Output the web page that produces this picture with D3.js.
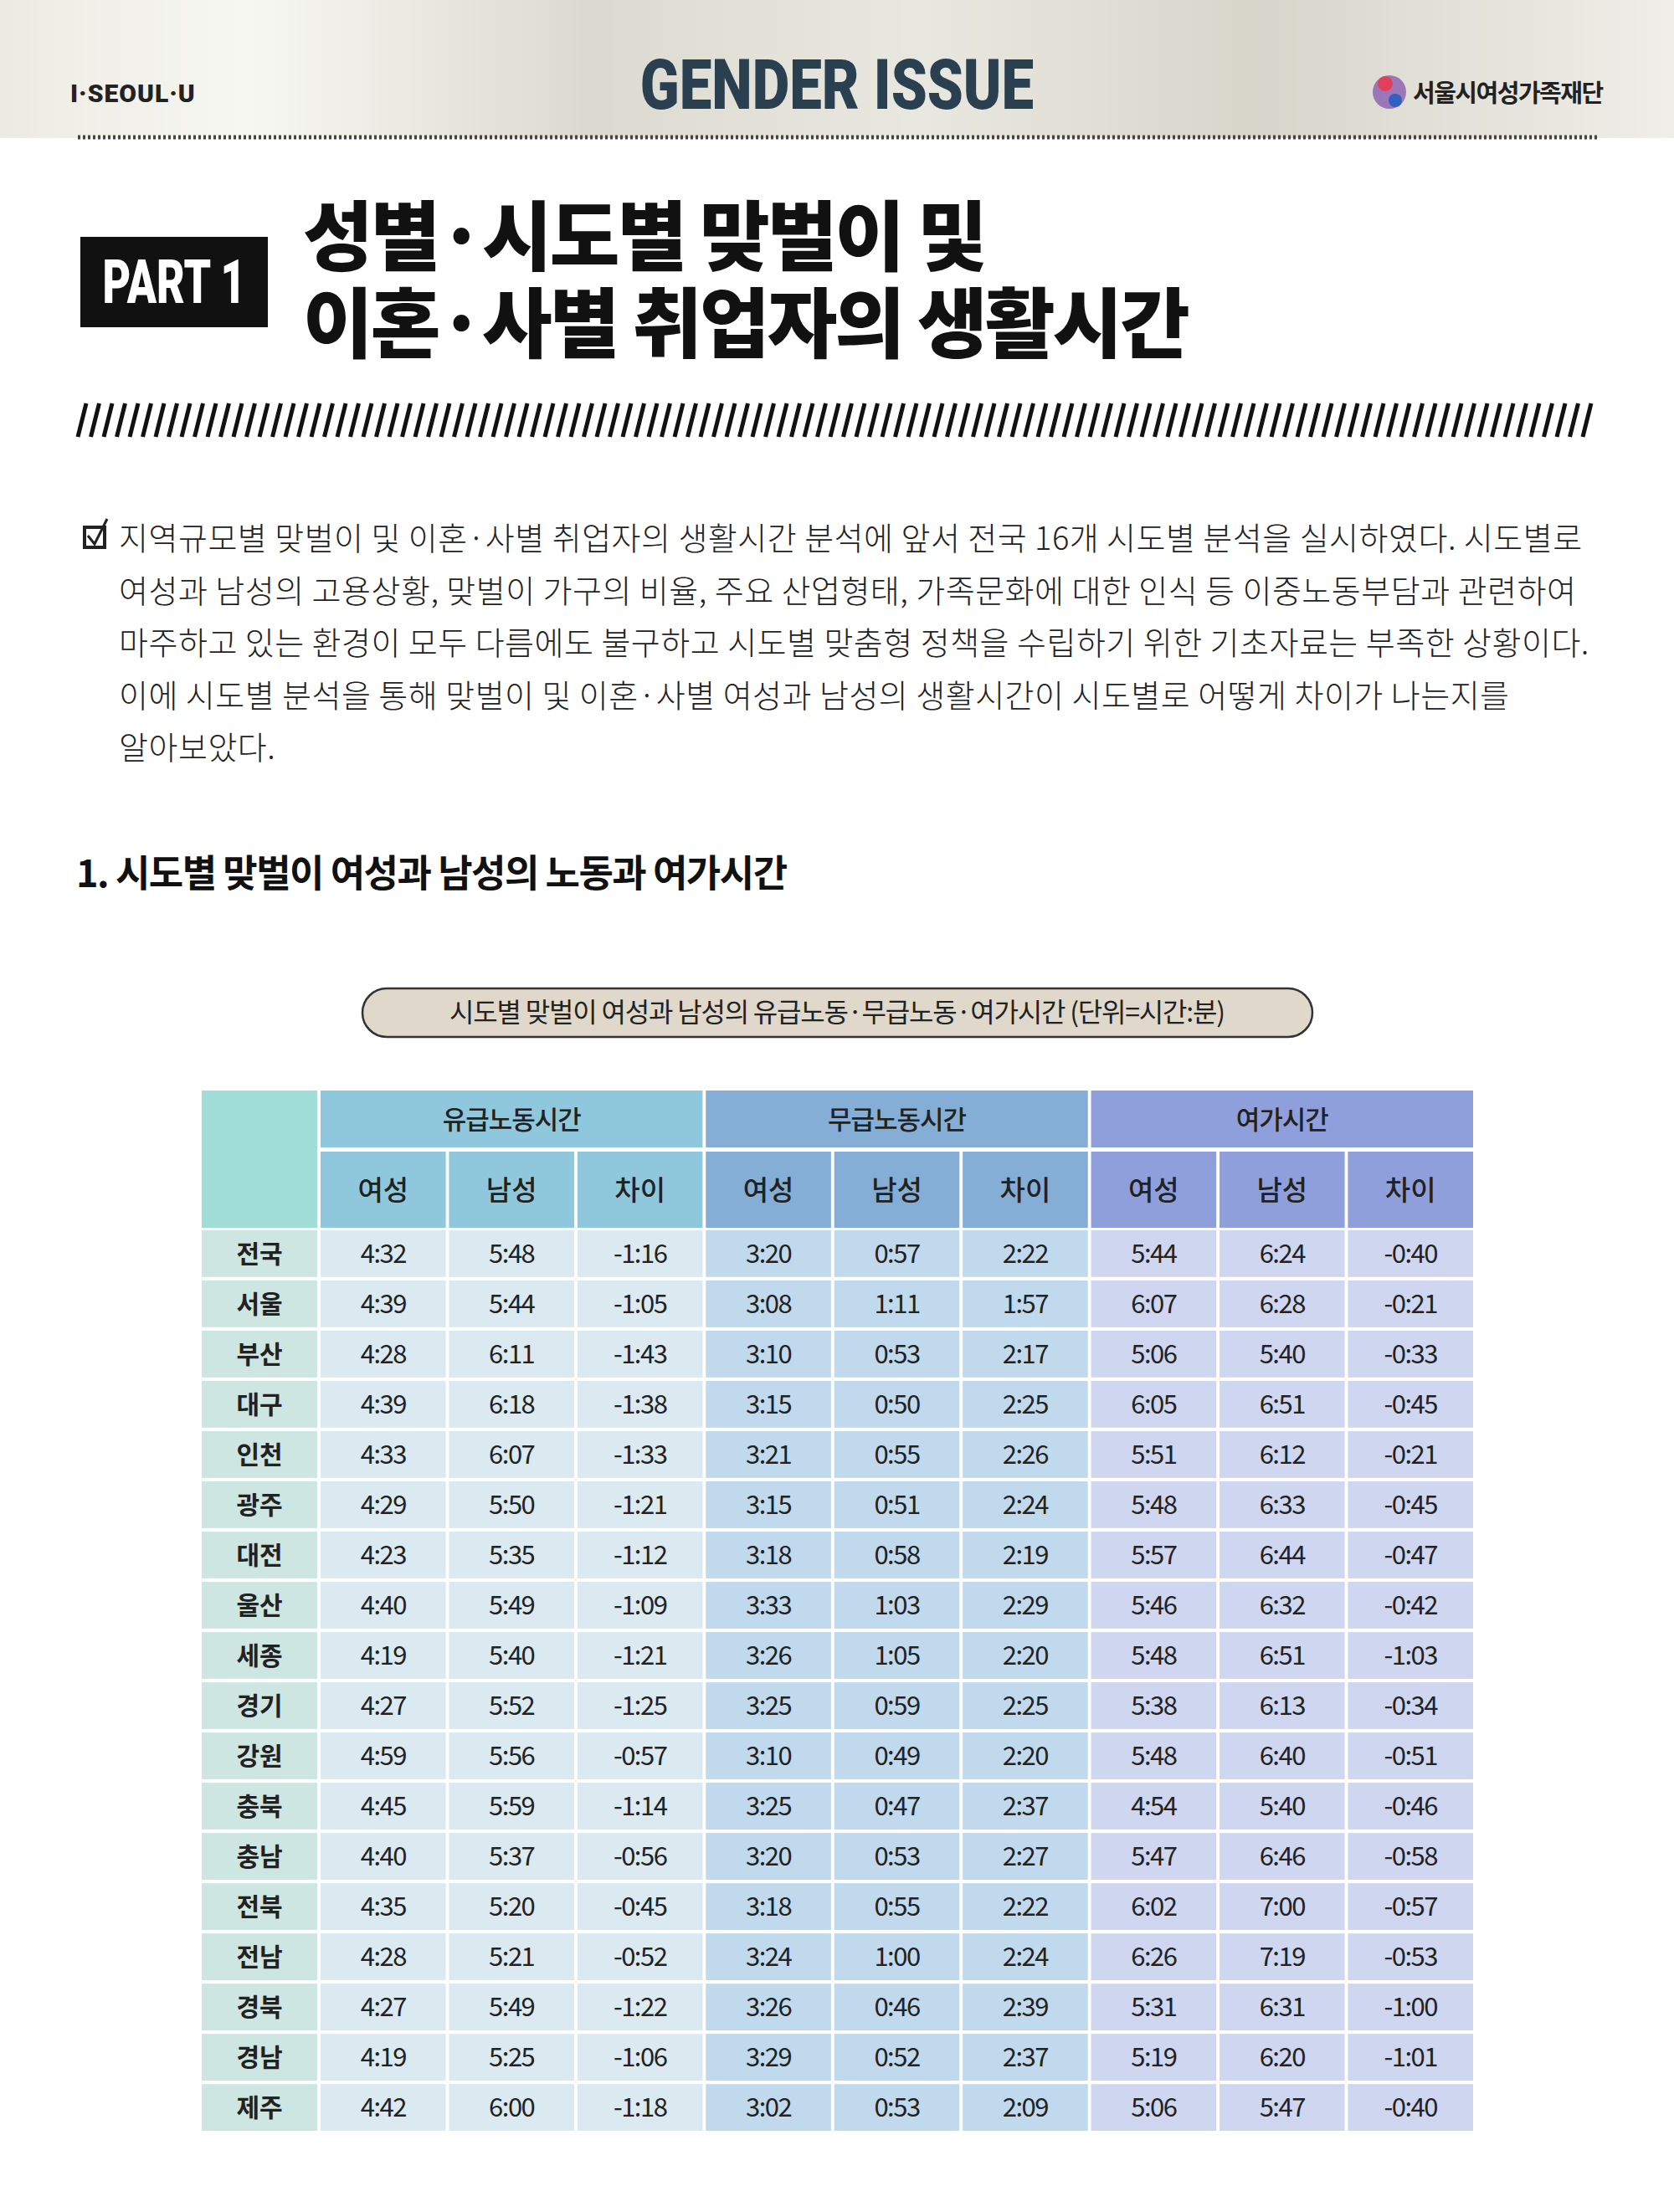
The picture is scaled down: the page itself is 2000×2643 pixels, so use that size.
<!DOCTYPE html>
<html><head><meta charset="utf-8">
<script src="https://cdn.jsdelivr.net/npm/d3@7"></script>
<style>body{margin:0;background:#fff}svg{display:block;font-family:"Noto Sans CJK KR","Noto Sans",sans-serif}</style>
</head><body><svg id="page"></svg>
<script>
const W = 2000, H = 2643;
const regions = ["전국","서울","부산","대구","인천","광주","대전","울산","세종","경기","강원","충북","충남","전북","전남","경북","경남","제주"];
const groups = ["유급노동시간","무급노동시간","여가시간"];
const subHeads = ["여성","남성","차이"];
const paidF = ["4:32","4:39","4:28","4:39","4:33","4:29","4:23","4:40","4:19","4:27","4:59","4:45","4:40","4:35","4:28","4:27","4:19","4:42"];
const paidM = ["5:48","5:44","6:11","6:18","6:07","5:50","5:35","5:49","5:40","5:52","5:56","5:59","5:37","5:20","5:21","5:49","5:25","6:00"];
const paidD = ["-1:16","-1:05","-1:43","-1:38","-1:33","-1:21","-1:12","-1:09","-1:21","-1:25","-0:57","-1:14","-0:56","-0:45","-0:52","-1:22","-1:06","-1:18"];
const unpaidF = ["3:20","3:08","3:10","3:15","3:21","3:15","3:18","3:33","3:26","3:25","3:10","3:25","3:20","3:18","3:24","3:26","3:29","3:02"];
const unpaidM = ["0:57","1:11","0:53","0:50","0:55","0:51","0:58","1:03","1:05","0:59","0:49","0:47","0:53","0:55","1:00","0:46","0:52","0:53"];
const unpaidD = ["2:22","1:57","2:17","2:25","2:26","2:24","2:19","2:29","2:20","2:25","2:20","2:37","2:27","2:22","2:24","2:39","2:37","2:09"];
const leisureF = ["5:44","6:07","5:06","6:05","5:51","5:48","5:57","5:46","5:48","5:38","5:48","4:54","5:47","6:02","6:26","5:31","5:19","5:06"];
const leisureM = ["6:24","6:28","5:40","6:51","6:12","6:33","6:44","6:32","6:51","6:13","6:40","5:40","6:46","7:00","7:19","6:31","6:20","5:47"];
const leisureD = ["-0:40","-0:21","-0:33","-0:45","-0:21","-0:45","-0:47","-0:42","-1:03","-0:34","-0:51","-0:46","-0:58","-0:57","-0:53","-1:00","-1:01","-0:40"];
const columns = [paidF, paidM, paidD, unpaidF, unpaidM, unpaidD, leisureF, leisureM, leisureD];
const paragraph = [
  "지역규모별 맞벌이 및 이혼·사별 취업자의 생활시간 분석에 앞서 전국 16개 시도별 분석을 실시하였다. 시도별로",
  "여성과 남성의 고용상황, 맞벌이 가구의 비율, 주요 산업형태, 가족문화에 대한 인식 등 이중노동부담과 관련하여",
  "마주하고 있는 환경이 모두 다름에도 불구하고 시도별 맞춤형 정책을 수립하기 위한 기초자료는 부족한 상황이다.",
  "이에 시도별 분석을 통해 맞벌이 및 이혼·사별 여성과 남성의 생활시간이 시도별로 어떻게 차이가 나는지를",
  "알아보았다."
];
const headColors = ["#8fc8dc","#85aed6","#8f9fdb"];
const bodyColors = ["#dbe9f1","#c0d9ed","#cfd6ef"];

const svg = d3.select("#page").attr("width", W).attr("height", H);

// header band
const defs = svg.append("defs");
const bg = defs.append("linearGradient").attr("id","band");
[["0%","#ecebe3"],["15%","#f7f7f2"],["35%","#dcdad0"],["55%","#e9e8e0"],["75%","#d8d6cb"],["100%","#efeee8"]]
  .forEach(s => bg.append("stop").attr("offset", s[0]).attr("stop-color", s[1]));
svg.append("rect").attr("width", W).attr("height", 165).attr("fill","url(#band)");
svg.append("line").attr("x1",93).attr("x2",1910).attr("y1",164).attr("y2",164)
  .attr("stroke","#444").attr("stroke-width",5).attr("stroke-dasharray","3 3");
svg.append("text").attr("x",84).attr("y",122).attr("font-size",30).attr("font-weight",900)
  .attr("font-family","Roboto, sans-serif").attr("fill","#222").attr("letter-spacing",1).text("I·SEOUL·U");
svg.append("text").attr("x",1000).attr("y",130).attr("text-anchor","middle")
  .attr("font-size",84).attr("font-weight",900).attr("font-family","Roboto, sans-serif")
  .attr("fill","#2a3f4f").attr("transform","translate(1000,0) scale(0.82,1) translate(-1000,0)")
  .text("GENDER ISSUE");
svg.append("circle").attr("cx",1660).attr("cy",110).attr("r",20).attr("fill","#8a5cb0").attr("opacity",0.8);
svg.append("circle").attr("cx",1655).attr("cy",100).attr("r",9).attr("fill","#e0405a");
svg.append("circle").attr("cx",1667).attr("cy",120).attr("r",8).attr("fill","#3060c0");
svg.append("text").attr("x",1688).attr("y",122).attr("font-size",29).attr("font-weight",700)
  .attr("fill","#222").attr("letter-spacing",-1.5).text("서울시여성가족재단");

// part title
svg.append("rect").attr("x",96).attr("y",283).attr("width",224).attr("height",108).attr("fill","#111");
svg.append("text").attr("x",208).attr("y",362).attr("text-anchor","middle").attr("font-size",72)
  .attr("font-weight",900).attr("font-family","Roboto, sans-serif").attr("fill","#fff")
  .attr("transform","translate(208,0) scale(0.72,1) translate(-208,0)").text("PART 1");
svg.append("g").attr("transform","translate(362,0)")
  .selectAll("text").data(["성별·시도별 맞벌이 및","이혼·사별 취업자의 생활시간"]).join("text")
  .attr("x",0).attr("y",(d,i) => 316 + i*104).attr("font-size",91).attr("font-weight",900)
  .attr("fill","#111").attr("letter-spacing",-3).text(d => d);

// hatch line
const hatch = d3.range(93, 1905, 15.5);
svg.append("g").selectAll("line").data(hatch).join("line")
  .attr("x1", d => d + 10).attr("x2", d => d).attr("y1",482).attr("y2",522)
  .attr("stroke","#111").attr("stroke-width",5);

// paragraph
svg.append("rect").attr("x",101).attr("y",630).attr("width",24).attr("height",24)
  .attr("fill","none").attr("stroke","#222").attr("stroke-width",4);
svg.append("path").attr("d","M105 640 L113 650 L128 620").attr("fill","none").attr("stroke","#222").attr("stroke-width",3);
svg.append("g").selectAll("text").data(paragraph).join("text")
  .attr("x",142).attr("y",(d,i) => 657 + i*62.5).attr("font-size",38).attr("font-weight",300).attr("fill","#222")
  .attr("letter-spacing",0.5).text(d => d);

svg.append("text").attr("x",91).attr("y",1060).attr("font-size",45).attr("font-weight",700)
  .attr("fill","#111").attr("letter-spacing",-1.5).text("1. 시도별 맞벌이 여성과 남성의 노동과 여가시간");

// caption pill
svg.append("rect").attr("x",433).attr("y",1181).attr("width",1135).attr("height",58).attr("rx",29)
  .attr("fill","#e0d9cb").attr("stroke","#333").attr("stroke-width",2.5);
svg.append("text").attr("x",1000).attr("y",1221).attr("text-anchor","middle").attr("font-size",32)
  .attr("fill","#222").attr("letter-spacing",-1.2).text("시도별 맞벌이 여성과 남성의 유급노동·무급노동·여가시간 (단위=시간:분)");

// table
const tx0 = 241, firstW = 138, tx1 = 1760;
const x = d3.scaleBand().domain(d3.range(9)).range([tx0 + firstW + 4, tx1]).paddingInner(0.025);
const y = d3.scaleBand().domain(d3.range(regions.length)).range([1470, 2546]).paddingInner(0.07);
const table = svg.append("g");

table.append("rect").attr("x",tx0).attr("y",1303).attr("width",firstW).attr("height",164).attr("fill","#a0ddd6");
groups.forEach((g,gi) => {
  const gx = x(gi*3), gw = x(gi*3+2) + x.bandwidth() - gx;
  table.append("rect").attr("x",gx).attr("y",1303).attr("width",gw).attr("height",68).attr("fill",headColors[gi]);
  table.append("text").attr("x",gx + gw/2).attr("y",1349).attr("text-anchor","middle")
    .attr("font-size",31).attr("font-weight",500).attr("fill","#222").attr("letter-spacing",-1).text(g);
});
d3.range(9).forEach(c => {
  table.append("rect").attr("x",x(c)).attr("y",1376).attr("width",x.bandwidth()).attr("height",91)
    .attr("fill",headColors[Math.floor(c/3)]);
  table.append("text").attr("x",x(c)+x.bandwidth()/2).attr("y",1434).attr("text-anchor","middle")
    .attr("font-size",33).attr("font-weight",500).attr("fill","#222").text(subHeads[c%3]);
});

regions.forEach((r,ri) => {
  const ry = y(ri), rh = y.bandwidth();
  table.append("rect").attr("x",tx0).attr("y",ry).attr("width",firstW).attr("height",rh).attr("fill","#cde6e2");
  table.append("text").attr("x",tx0+firstW/2).attr("y",ry+rh/2+11).attr("text-anchor","middle")
    .attr("font-size",30).attr("font-weight",700).attr("fill","#222").text(r);
  columns.forEach((col,c) => {
    table.append("rect").attr("x",x(c)).attr("y",ry).attr("width",x.bandwidth()).attr("height",rh)
      .attr("fill",bodyColors[Math.floor(c/3)]);
    table.append("text").attr("x",x(c)+x.bandwidth()/2).attr("y",ry+rh/2+11).attr("text-anchor","middle")
      .attr("font-size",31).attr("fill","#222").attr("letter-spacing",-1.5).text(col[ri]);
  });
});
</script></body></html>
